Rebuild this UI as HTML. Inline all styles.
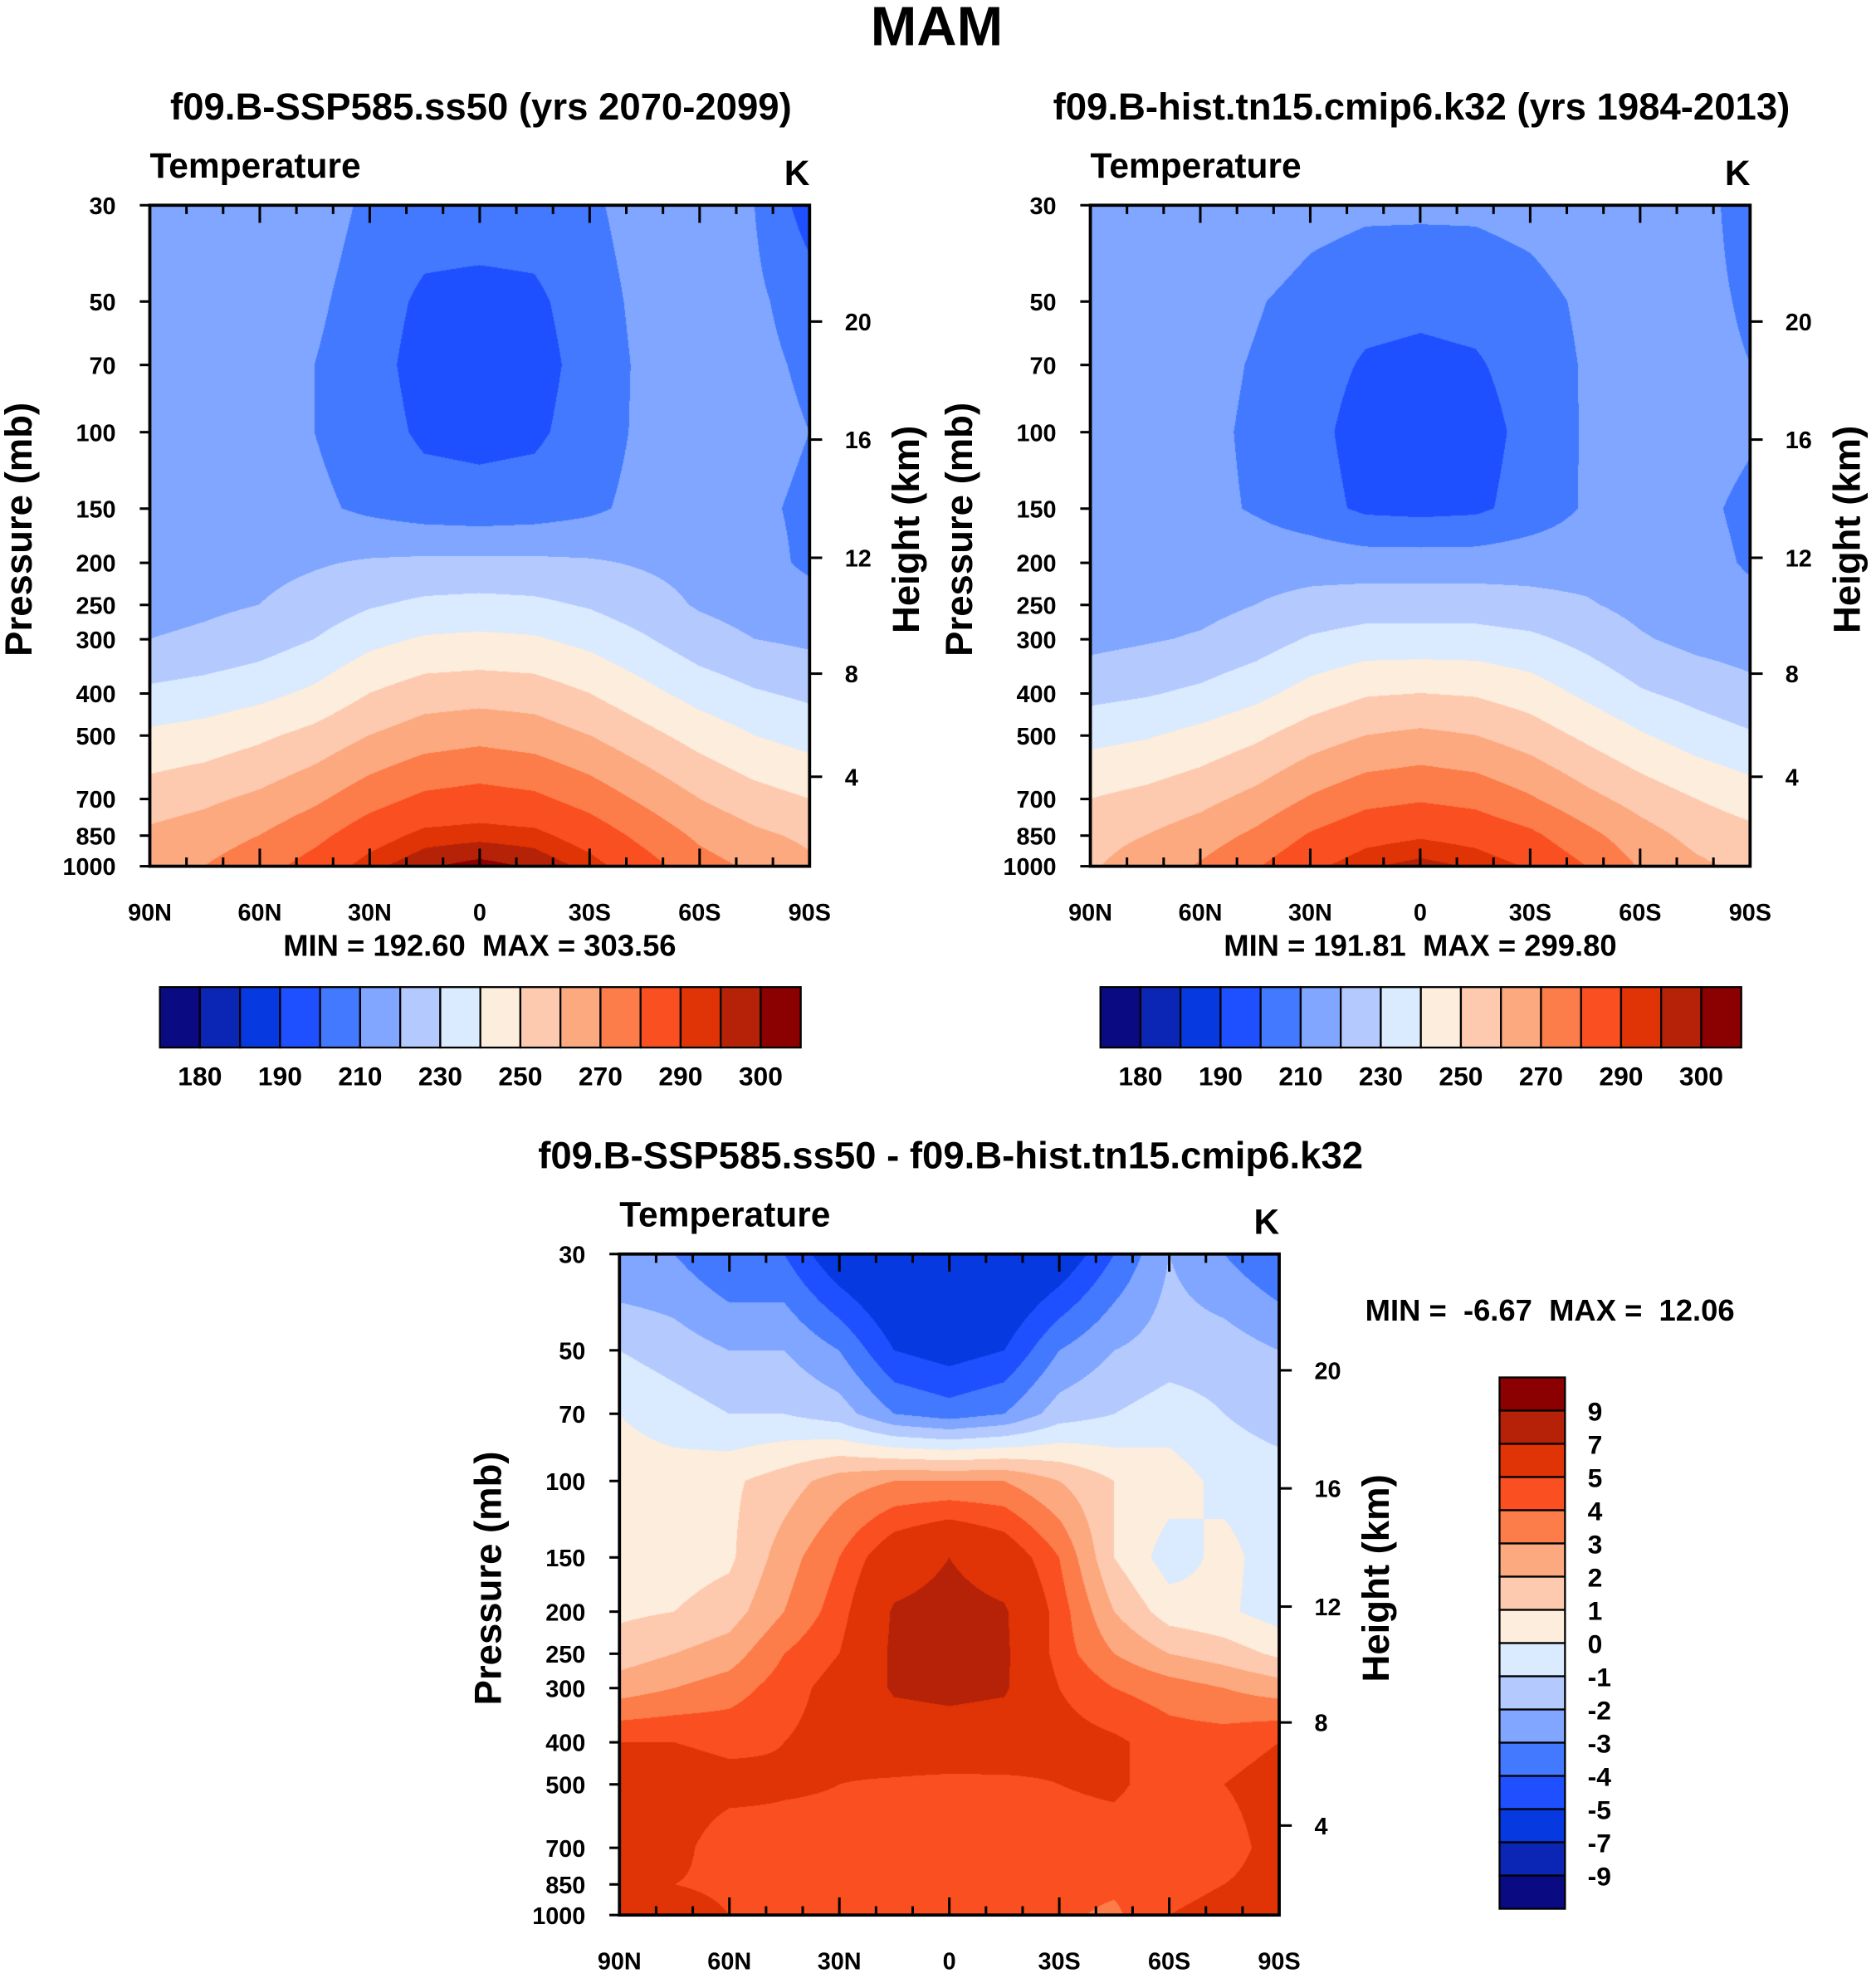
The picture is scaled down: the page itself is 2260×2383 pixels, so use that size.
<!DOCTYPE html>
<html><head><meta charset="utf-8"><style>
body{margin:0;background:#fff;}
#root{position:relative;width:2260px;height:2383px;overflow:hidden;background:#fff;}
canvas{position:absolute;}
svg{position:absolute;left:0;top:0;}
text{font-family:"Liberation Sans",sans-serif;font-weight:bold;fill:#000;white-space:pre;}
</style></head><body>
<div id="root">
<canvas id="c1"></canvas>
<canvas id="c2"></canvas>
<canvas id="c3"></canvas>
<svg id="svg" width="2260" height="2383" viewBox="0 0 1490 1571" preserveAspectRatio="none"></svg>
</div>
<script>
const S = 2260/1490;
const lats = [90,75,60,45,30,15,0,-15,-30,-45,-60,-75,-90];
const pres = [30,50,70,100,150,200,250,300,400,500,700,850,1000];
const presTicks = [30,50,70,100,150,200,250,300,400,500,700,850,1000];
const heightTicks = [20,16,12,8,4];
const heightTickPress = [55.6,104,194.7,360,622];
const latTickLabels = ["90N","60N","30N","0","30S","60S","90S"];
const tempLevels = [180,185,190,200,210,220,230,240,250,260,270,280,290,295,300];
const tempLabels = ["180","190","210","230","250","270","290","300"];
const diffLevels = [-9,-7,-5,-4,-3,-2,-1,0,1,2,3,4,5,7,9];
const diffLabels = ["9","7","5","4","3","2","1","0","-1","-2","-3","-4","-5","-7","-9"];
const colors = ["#0a0a82","#0b26b5","#0639e0","#1e50ff","#4279ff","#80a6ff","#b4caff","#daeaff","#fdeddc","#fdcab0","#fca97f","#fc7c4a","#fa4f20","#e03306","#b52207","#8b0000"];
const futT = [
[215,215,215,215,208,205,205,205,208,215,215,210,195],
[215,215,215,212,205,198,197,198,205,213,215,212,205],
[215,215,214,210,204,196,195,196,204,212,215,213,208],
[215,215,214,210,205,198,197,198,205,212,215,214,210],
[215,215,214,212,208,205,204,205,208,213,215,212,208],
[215,216,217,219,221,222,222,222,221,219,217,214,208],
[216,218,220,224,229,232,233,232,229,224,219,216,214],
[220,222,225,230,237,241,242,241,237,231,224,220,218],
[232,234,237,242,250,255,256,255,250,243,236,231,228],
[242,244,248,253,260,265,267,265,260,253,246,240,236],
[255,258,262,268,276,282,284,282,276,268,260,254,250],
[262,265,270,277,286,292,293,292,286,277,268,262,258],
[266,270,276,284,293,299,302,299,293,284,274,268,262]];
const histT = [
[218,218,219,219,214,212,212,212,214,218,218,215,204],
[216,216,216,211,206,203,202,203,206,212,216,214,208],
[215,215,214,209,204,199,198,199,204,211,215,214,210],
[214,214,213,208,203,196,195,196,203,211,214,214,211],
[214,214,213,209,204,198,197,198,204,211,214,212,208],
[214,215,215,216,216,215,215,215,216,216,215,213,209],
[214,216,217,220,223,225,225,225,223,221,217,214,212],
[217,219,221,225,231,234,234,234,232,227,221,217,215],
[227,229,232,237,244,249,250,249,245,238,231,227,223],
[237,239,243,248,255,260,262,260,255,248,241,235,231],
[250,253,257,263,271,277,279,277,271,263,256,250,245],
[257,260,265,272,281,287,289,287,282,273,264,257,253],
[259,264,271,279,288,294,297,294,289,280,269,262,257]];
const diffT = [
[-3,-3,-4,-4,-6,-7,-7,-7,-6,-4,-2,-3,-4],
[-1,-1.5,-2,-2,-3,-5,-5.5,-5,-3,-2,-1.5,-1.5,-2],
[0,-0.5,-1,-1,-1.5,-3,-3.5,-3,-1.5,-1,-0.5,-1,-1.5],
[0.5,0.5,0.8,1.5,2.5,3,3,3,2,1,0.5,-0.3,-0.5],
[0.5,0.5,0.8,2.5,4,6,7,6,4,1,-0.5,0.3,-0.5],
[0.8,1,1.5,3,4.5,7.2,7.6,7.2,4.5,2,0.5,0.2,-0.5],
[1.5,2,2.5,4,5,7.3,7.6,7.3,4.5,3,2,1.5,0.8],
[2.5,3,3.5,4.5,5.5,7.2,7.4,7.2,5,4,3.5,3,2.5],
[5,5,4.8,5,5.5,6,6.2,6,5.5,5.2,4.5,4.5,5],
[5.5,5.5,5.3,5.1,5,4.8,4.6,4.7,5,5.2,4.5,5,5.5],
[5.5,5.3,4.5,4.7,4.8,4.5,4.6,4.5,4.5,4.5,4.3,4.5,5.5],
[5.2,5,4.8,4.6,4.5,4.5,4.3,4.5,4.3,4.2,4.5,5,5.5],
[7,5.5,5,4.7,4.5,4.3,4.2,4.3,4.2,3.8,5,5.5,5]];

const NS="http://www.w3.org/2000/svg";
const svg=document.getElementById('svg');
function el(tag,attrs,parent){const e=document.createElementNS(NS,tag);for(const k in attrs)e.setAttribute(k,attrs[k]);(parent||svg).appendChild(e);return e;}
function txt(x,y,s,size,anchor,name,rot){const t=el('text',{x:x,y:y,'font-size':size,'text-anchor':anchor||'middle'});


if(rot)t.setAttribute('transform','rotate(-90 '+x+' '+y+')');t.textContent=s;return t;}
const lp0=Math.log(30),lp1=Math.log(1000);
function hex(c){return [parseInt(c.substr(1,2),16),parseInt(c.substr(3,2),16),parseInt(c.substr(5,2),16)];}
const rgb=colors.map(hex);
function interp(grid,latv,p){
  let li=(90-latv)/15; let i0=Math.min(11,Math.floor(li)); let fu=li-i0;
  const lg=Math.log(p); let j0=0; while(j0<11 && Math.log(pres[j0+1])<lg) j0++;
  let fv=(lg-Math.log(pres[j0]))/(Math.log(pres[j0+1])-Math.log(pres[j0])); fv=Math.max(0,Math.min(1,fv));
  const a=grid[j0][i0],b=grid[j0][i0+1],c=grid[j0+1][i0],d=grid[j0+1][i0+1];
  return (a*(1-fu)+b*fu)*(1-fv)+(c*(1-fu)+d*fu)*fv;
}
function panel(id,x0,y0,grid,levels){
  const w=524,h=525;
  const cv=document.getElementById(id);
  const W=Math.round(w*S),H=Math.round(h*S);
  cv.width=W;cv.height=H;cv.style.left=(x0*S)+'px';cv.style.top=(y0*S)+'px';
  const ctx=cv.getContext('2d');const img=ctx.createImageData(W,H);
  for(let py=0;py<H;py++){const p=Math.exp(lp0+(py+0.5)/H*(lp1-lp0));
    for(let px=0;px<W;px++){const latv=90-180*(px+0.5)/W;const v=interp(grid,latv,p);
      let k=0;while(k<levels.length&&v>=levels[k])k++;const c=rgb[k];const o=(py*W+px)*4;
      img.data[o]=c[0];img.data[o+1]=c[1];img.data[o+2]=c[2];img.data[o+3]=255;}}
  ctx.putImageData(img,0,0);
  el('rect',{x:x0,y:y0,width:w,height:h,fill:'none',stroke:'#000','stroke-width':2.5,});
  const yOf=p=>y0+(Math.log(p)-lp0)/(lp1-lp0)*h;
  presTicks.forEach(p=>{const y=yOf(p);el('line',{x1:x0-8,x2:x0,y1:y,y2:y,stroke:'#000','stroke-width':2});
    txt(x0-27,y+7,String(p),19,'end','pressure-tick-label');});
  heightTicks.forEach((hk,i)=>{const y=yOf(heightTickPress[i]);el('line',{x1:x0+w,x2:x0+w+10,y1:y,y2:y,stroke:'#000','stroke-width':2});
    txt(x0+w+28,y+7,String(hk),19,'start','height-tick-label');});
  for(let l=0;l<=18;l++){const x=x0+w*l/18;const major=l%3===0;const L=major?14:7;
    el('line',{x1:x,x2:x,y1:y0+h,y2:y0+h-L,stroke:'#000','stroke-width':2});
    el('line',{x1:x,x2:x,y1:y0,y2:y0+L,stroke:'#000','stroke-width':2});}
  latTickLabels.forEach((s,i)=>txt(x0+w*i/6,y0+h+43,s,19,'middle','latitude-tick-label'));
  txt(x0,y0-22,'Temperature',28,'start','variable-label');
  txt(x0+w-10,y0-16,'K',28,'middle','units-label');
  txt(x0-94,y0+h/2-5,'Pressure (mb)',30,'middle','y-axis-title',true);
  txt(x0+w+87,y0+h/2-5,'Height (km)',30,'middle','right-axis-title',true);
}
function hbar(x0,y0){
  const bw=509/16;
  colors.forEach((c,i)=>{const r=el('rect',{x:x0+i*bw,y:y0,width:bw,height:48,fill:c,stroke:'#000','stroke-width':1.5});
    });
  tempLabels.forEach((s,i)=>txt(x0+(2*i+1)*bw,y0+78,s,21,'middle','colorbar-label'));
}
function vbar(x0,y0){
  const bh=422/16;
  colors.slice().reverse().forEach((c,i)=>{const r=el('rect',{x:x0,y:y0+i*bh,width:52,height:bh,fill:c,stroke:'#000','stroke-width':1.5});
    });
  diffLabels.forEach((s,i)=>txt(x0+70,y0+(i+1)*bh+8,s,21,'start','colorbar-label'));
}
txt(744,36,'MAM',44,'middle','figure-title');
txt(382,95,'f09.B-SSP585.ss50 (yrs 2070-2099)',30,'middle','panel-title-future');
txt(1129,95,'f09.B-hist.tn15.cmip6.k32 (yrs 1984-2013)',30,'middle','panel-title-hist');
txt(755,928,'f09.B-SSP585.ss50 - f09.B-hist.tn15.cmip6.k32',30,'middle','panel-title-diff');
panel('c1',119,163,futT,tempLevels);
panel('c2',866,163,histT,tempLevels);
panel('c3',492,996,diffT,diffLevels);
txt(381,759,'MIN = 192.60  MAX = 303.56',24,'middle','min-max-future');
txt(1128,759,'MIN = 191.81  MAX = 299.80',24,'middle','min-max-hist');
txt(1231,1049,'MIN =  -6.67  MAX =  12.06',24,'middle','min-max-diff');
hbar(127,784);
hbar(874,784);
vbar(1191,1094);
</script>
</body></html>
